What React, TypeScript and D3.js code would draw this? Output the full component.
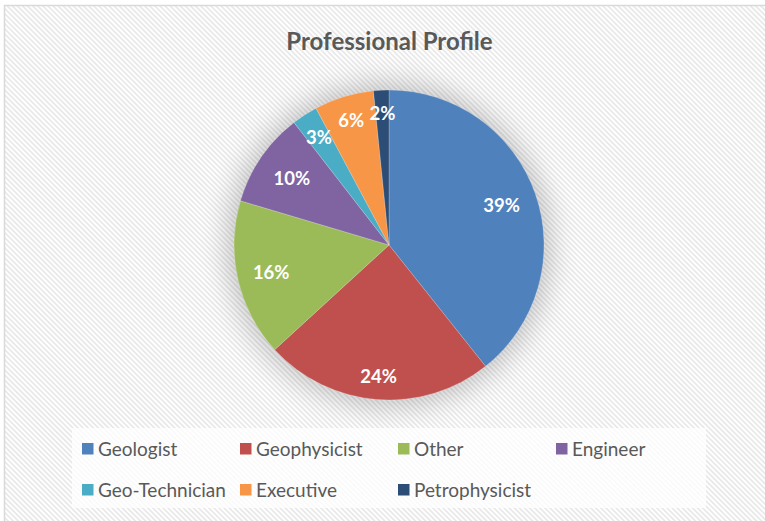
import React from "react";
import * as d3 from "d3";

const categories = ["Geologist", "Geophysicist", "Other", "Engineer", "Geo-Technician", "Executive", "Petrophysicist"];
const shares = [39.3, 23.9, 16.4, 9.9, 2.7, 6.2, 1.6];
const colors = ["#4F81BD", "#C0504D", "#9BBB59", "#8064A2", "#4BACC6", "#F79646", "#2C4D75"];
const labelRadiusFrac = [0.77, 0.85, 0.78, 0.76, 0.83, 0.84, 0.85];
const legendRows = [
  ["Geologist", "Geophysicist", "Other", "Engineer"],
  ["Geo-Technician", "Executive", "Petrophysicist"],
];

const W = 765;
const H = 521;
const cx = 389;
const cy = 245;
const R = 155;

export default function App() {
  const total = d3.sum(shares);
  const pie = d3.pie<number>().sort(null).value((d) => d);
  const arcs = pie(shares);
  const arcGen = d3.arc<d3.PieArcDatum<number>>().innerRadius(0).outerRadius(R);
  const fmt = (v: number) => `${Math.round((v / total) * 100)}%`;

  const colX = d3.scalePoint<number>().domain([0, 1, 2, 3]).range([82, 556]);
  const rowY = d3.scalePoint<number>().domain([0, 1]).range([449, 490]);

  return (
    <div style={{ position: "fixed", left: 0, top: 0, width: W, height: H }}>
      <svg width={W} height={H} style={{ display: "block", fontFamily: "Lato, 'Noto Sans', sans-serif" }}>
        <defs>
          <pattern id="stripes" width="3.6" height="3.6" patternUnits="userSpaceOnUse" patternTransform="rotate(-45)">
            <rect width="3.6" height="3.6" fill="#ffffff" />
            <rect width="1.8" height="3.6" fill="#e9e9e9" />
          </pattern>
          <filter id="shadow" x="-50%" y="-50%" width="200%" height="200%">
            <feGaussianBlur stdDeviation="14" />
          </filter>
        </defs>
        <rect x={0} y={0} width={W} height={H} fill="#ffffff" />
        <rect x={4.5} y={5.5} width={W + 10} height={H + 10} fill="url(#stripes)" stroke="#d9d9d9" strokeWidth={1.5} />
        <text x={cx + 0.5} y={50} textAnchor="middle" fontSize={24} fontWeight={700} fill="#595959">
          Professional Profile
        </text>
        <circle cx={cx} cy={cy} r={R + 6} fill="#000" opacity={0.22} filter="url(#shadow)" />
        <g transform={`translate(${cx},${cy})`}>
          {arcs.map((a, i) => (
            <path key={categories[i]} d={arcGen(a) || ""} fill={colors[i]} stroke="#ffffff" strokeOpacity={0.35} strokeWidth={0.6} />
          ))}
          {arcs.map((a, i) => {
            const rr = R * labelRadiusFrac[i];
            const l = d3.arc<d3.PieArcDatum<number>>().innerRadius(rr).outerRadius(rr);
            const [x, y] = l.centroid(a);
            return (
              <text key={"l" + i} x={x} y={y} dy="0.36em" textAnchor="middle" fontSize={18.5} fontWeight={700} fill="#ffffff">
                {fmt(shares[i])}
              </text>
            );
          })}
        </g>
        <rect x={72} y={428} width={634} height={80} fill="#ffffff" opacity={0.75} />
        {legendRows.map((row, ri) =>
          row.map((name, ci) => {
            const idx = categories.indexOf(name);
            const x = colX(ci) as number;
            const y = rowY(ri) as number;
            return (
              <g key={name}>
                <rect x={x} y={y - 6} width={11.5} height={11.5} fill={colors[idx]} />
                <text x={x + 16} y={y} dy="0.36em" fontSize={19} fill="#595959">
                  {name}
                </text>
              </g>
            );
          })
        )}
      </svg>
    </div>
  );
}
